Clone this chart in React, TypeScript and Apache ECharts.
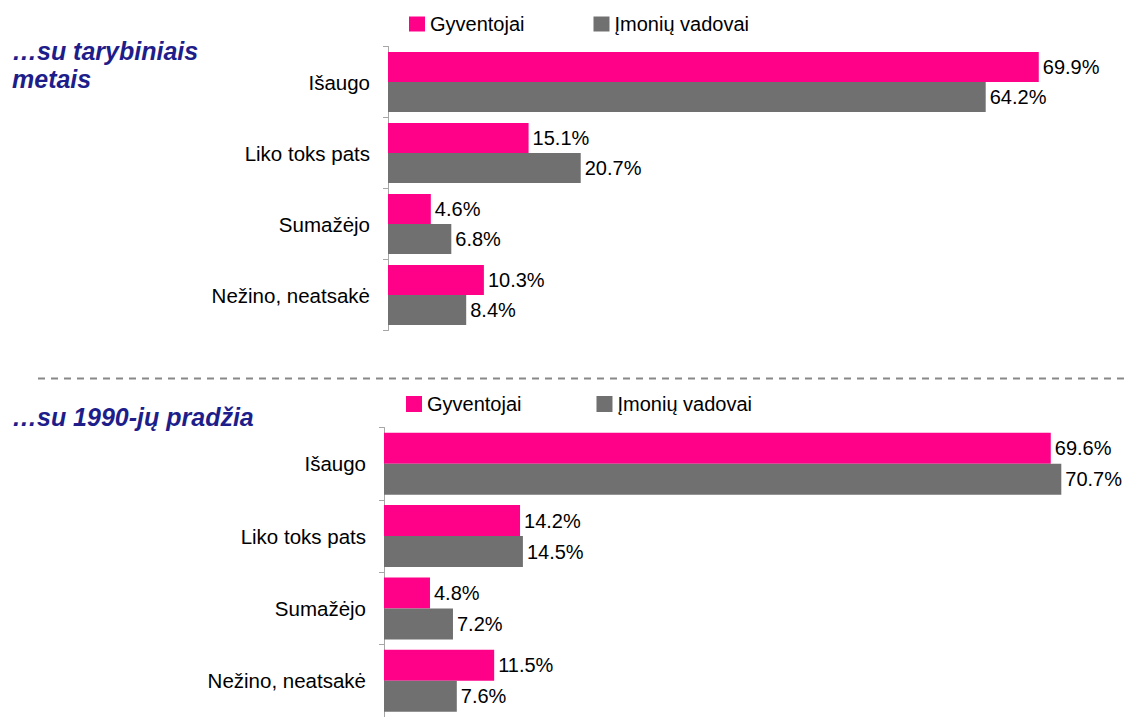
import React, { useEffect, useRef } from "react";
import * as echarts from "echarts";

const categories = ["Išaugo", "Liko toks pats", "Sumažėjo", "Nežino, neatsakė"];
const seriesNames = ["Gyventojai", "Įmonių vadovai"];
const sovietResidents = [69.9, 15.1, 4.6, 10.3];
const sovietManagers = [64.2, 20.7, 6.8, 8.4];
const early90sResidents = [69.6, 14.2, 4.8, 11.5];
const early90sManagers = [70.7, 14.5, 7.2, 7.6];
const titleTop = "…su tarybiniais\nmetais";
const titleBottom = "…su 1990-jų pradžia";

const FONT = "'Liberation Sans', Arial, sans-serif";
const PINK = "#ff0088";
const GRAY = "#707070";
const NAVY = "#1e1e8a";

export default function App() {
  const ref = useRef<HTMLDivElement>(null);
  useEffect(() => {
    if (!ref.current) return;
    const chart = echarts.init(ref.current, null, { renderer: "svg" });
    const label = {
      show: true,
      position: "right" as const,
      distance: 4,
      fontSize: 20,
      fontFamily: FONT,
      color: "#000",
      formatter: (p: any) => Number(p.value).toFixed(1) + "%",
    };
    const yAxisBase = (gridIndex: number) => ({
      type: "category" as const,
      gridIndex,
      data: categories,
      inverse: true,
      axisLine: { show: true, lineStyle: { color: "#a6a6a6", width: 1 } },
      axisTick: { show: true, length: 5, lineStyle: { color: "#a6a6a6" } },
      axisLabel: { margin: 18, fontSize: 20.5, fontFamily: FONT, color: "#000" },
    });
    const xAxisBase = (gridIndex: number) => ({
      type: "value" as const,
      gridIndex,
      min: 0,
      max: 75,
      show: false,
      splitLine: { show: false },
    });
    const legendBase = {
      icon: "rect",
      itemWidth: 16,
      itemHeight: 15,
      padding: 0,
      data: seriesNames,
      textStyle: { fontSize: 20, fontFamily: FONT, color: "#000" },
      selectedMode: false,
    };
    chart.setOption({
      animation: false,
      textStyle: { fontFamily: FONT },
      legend: [
        { ...legendBase, left: 409, top: 14, itemGap: 69 },
        { ...legendBase, left: 406, top: 394, itemGap: 75, itemHeight: 16 },
      ],
      grid: [
        { left: 388, top: 46.5, width: 75 * 9.31, height: 284, containLabel: false },
        { left: 384, top: 427.5, width: 75 * 9.58, height: 298, containLabel: false },
      ],
      xAxis: [xAxisBase(0), xAxisBase(1)],
      yAxis: [yAxisBase(0), yAxisBase(1)],
      series: [
        { name: seriesNames[0], type: "bar", xAxisIndex: 0, yAxisIndex: 0, data: sovietResidents, barWidth: 30, barGap: "0%", itemStyle: { color: PINK }, label },
        { name: seriesNames[1], type: "bar", xAxisIndex: 0, yAxisIndex: 0, data: sovietManagers, barWidth: 30, barGap: "0%", itemStyle: { color: GRAY }, label },
        { name: seriesNames[0], type: "bar", xAxisIndex: 1, yAxisIndex: 1, data: early90sResidents, barWidth: 31, barGap: "0%", itemStyle: { color: PINK }, label },
        { name: seriesNames[1], type: "bar", xAxisIndex: 1, yAxisIndex: 1, data: early90sManagers, barWidth: 31, barGap: "0%", itemStyle: { color: GRAY }, label },
      ],
      graphic: [
        {
          type: "text",
          left: 12,
          top: 37,
          style: {
            text: titleTop,
            font: `italic bold 25px ${FONT}`,
            fill: NAVY,
            lineHeight: 28,
          },
        },
        {
          type: "text",
          left: 12,
          top: 403,
          style: {
            text: titleBottom,
            font: `italic bold 25px ${FONT}`,
            fill: NAVY,
            lineHeight: 28,
          },
        },
        {
          type: "line",
          shape: { x1: 38, y1: 378.5, x2: 1124, y2: 378.5 },
          style: { stroke: "#888888", lineWidth: 2, lineDash: [7, 6] },
        },
      ],
    });
    return () => chart.dispose();
  }, []);
  return (
    <div
      ref={ref}
      style={{ position: "fixed", left: 0, top: 0, width: 1124, height: 717, background: "#fff" }}
    />
  );
}
